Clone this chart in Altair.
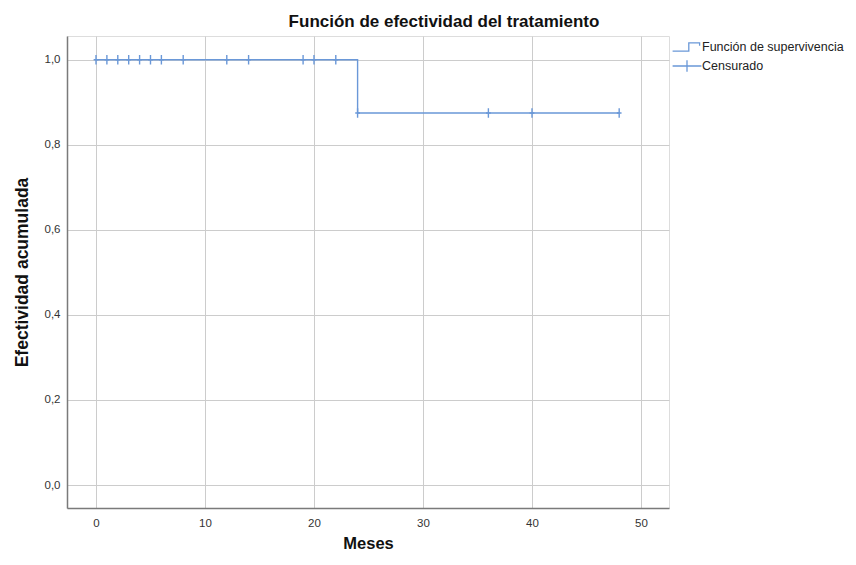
import altair as alt
import pandas as pd

# Kaplan-Meier step function
step_time = [0, 24, 48]
step_surv = [1.0, 0.875, 0.875]

# Censored observations
cens_time = [0, 1, 2, 3, 4, 5, 6, 8, 12, 14, 19, 20, 22, 24, 36, 40, 48]
cens_surv = [1.0] * 13 + [0.875] * 4

x_ticks = [0, 10, 20, 30, 40, 50]
y_ticks = [0.0, 0.2, 0.4, 0.6, 0.8, 1.0]

series_names = ["Función de supervivencia", "Censurado"]

BLUE = "#6a98d8"

step_df = pd.DataFrame({"t": step_time, "s": step_surv})
cens_df = pd.DataFrame({"t": cens_time, "s": cens_surv, "serie": "Censurado"})

xscale = alt.Scale(domain=[-2.66, 52.57], nice=False, zero=False)
yscale = alt.Scale(domain=[-0.054, 1.056], nice=False, zero=False)

xaxis = alt.Axis(
    values=x_ticks, grid=True, gridColor="#cccccc", gridWidth=1,
    ticks=False, domainColor="#7a7a7a", domainWidth=1.5,
    labelFont="Liberation Sans", labelFontSize=11.5, labelColor="#333333",
    labelPadding=9, title="Meses", titleFont="Liberation Sans",
    titleFontSize=16.5, titleFontWeight="bold", titleColor="#111111",
    titleX=301, titleY=35, titleBaseline="middle", titleAlign="center",
)
yaxis = alt.Axis(
    values=y_ticks, grid=True, gridColor="#cccccc", gridWidth=1,
    ticks=False, domainColor="#7a7a7a", domainWidth=1.5,
    labelExpr="replace(format(datum.value, '.1f'), '.', ',')",
    labelFont="Liberation Sans", labelFontSize=11.5, labelColor="#333333",
    labelPadding=7, title="Efectividad acumulada", titleFont="Liberation Sans",
    titleFontSize=17.5, titleFontWeight="bold", titleColor="#111111",
    titleX=-45, titleY=236, titleAngle=270, titleBaseline="middle",
    titleAlign="center",
)

line = alt.Chart(step_df).mark_line(
    interpolate="step-after", color=BLUE, strokeWidth=1.4
).encode(
    x=alt.X("t:Q", scale=xscale, axis=xaxis),
    y=alt.Y("s:Q", scale=yscale, axis=yaxis),
)

points = alt.Chart(cens_df).mark_point(
    shape="M0,-1L0,1M-0.5,0L0.5,0", size=90, color=BLUE, filled=False,
    strokeWidth=1.4, opacity=1,
).encode(x="t:Q", y="s:Q")

step_path = "M-1.6,0.45L0.2,0.45L0.2,-0.45L1.4,-0.45L1.4,-0.15"
cross_path = "M-1.6,0L1.6,0M0,-0.65L0,0.65"

# invisible layer that only supplies the legend
legend_layer = alt.Chart(cens_df).mark_point(
    color=BLUE, filled=False, opacity=0, strokeWidth=1.3,
).encode(
    x="t:Q",
    y="s:Q",
    shape=alt.Shape(
        "serie:N",
        scale=alt.Scale(domain=series_names, range=[step_path, cross_path]),
        legend=alt.Legend(
            title=None, orient="none", legendX=610, legendY=1,
            symbolSize=324, symbolStrokeColor=BLUE, symbolFillColor="transparent",
            symbolStrokeWidth=1.3, symbolOpacity=1, padding=0,
            labelFont="Liberation Sans", labelFontSize=12.5, labelColor="#222222",
            labelOffset=5, rowPadding=2, symbolOffset=0,
        ),
    ),
)

chart = alt.layer(line, points, legend_layer).properties(
    width=602, height=472,
    title=alt.TitleParams(
        "Función de efectividad del tratamiento", font="Liberation Sans",
        fontSize=17, fontWeight="bold", color="#111111", anchor="middle",
        dx=76, offset=5,
    ),
    autosize=alt.AutoSizeParams(type="none"),
    padding={"left": 59, "top": 28, "right": 179, "bottom": 45},
).configure_view(stroke=None).configure(background="white")

chart.save("out.html", embed_options={"renderer": "svg", "actions": False})
